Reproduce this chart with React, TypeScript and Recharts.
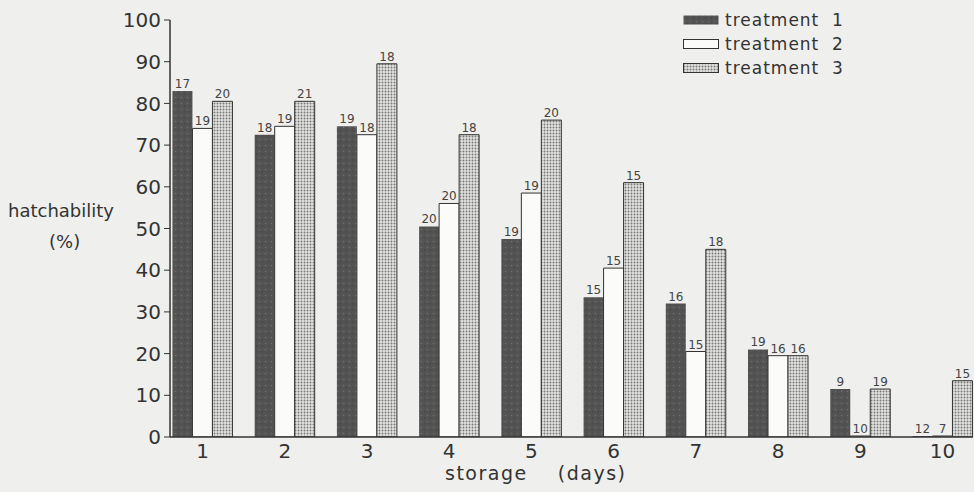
import React from 'react';
import { BarChart, Bar, XAxis, YAxis, LabelList } from 'recharts';

// storage days
const days = [1, 2, 3, 4, 5, 6, 7, 8, 9, 10];
// hatchability (%) per treatment
const treatment1 = [83, 72.5, 74.5, 50.5, 47.5, 33.5, 32, 21, 11.5, 0];
const treatment2 = [74, 74.5, 72.5, 56, 58.5, 40.5, 20.5, 19.5, 0, 0];
const treatment3 = [80.5, 80.5, 89.5, 72.5, 76, 61, 45, 19.5, 11.5, 13.5];
// numbers printed above the bars
const count1 = [17, 18, 19, 20, 19, 15, 16, 19, 9, 12];
const count2 = [19, 19, 18, 20, 19, 15, 15, 16, 10, 7];
const count3 = [20, 21, 18, 18, 20, 15, 18, 16, 19, 15];
const yTicks = [0, 10, 20, 30, 40, 50, 60, 70, 80, 90, 100];
const legendNames = ['treatment  1', 'treatment  2', 'treatment  3'];

const data = days.map((d, i) => ({
    day: d,
    t1: treatment1[i],
    t2: treatment2[i],
    t3: treatment3[i],
    n1: count1[i],
    n2: count2[i],
    n3: count3[i],
}));

const ink = '#333';
const font = '"DejaVu Sans", sans-serif';
const fills = ['url(#darkFill)', '#fbfbfa', 'url(#dotFill)'];

const Patterns = () => (
    <svg width={0} height={0} style={{ position: 'absolute' }}>
        <defs>
            <pattern id='darkFill' width={6} height={6} patternUnits='userSpaceOnUse'>
                <rect width={6} height={6} fill='#535353' />
                <circle cx={1.5} cy={1.5} r={0.8} fill='#6e6e6e' />
                <circle cx={4.5} cy={4} r={0.7} fill='#404040' />
            </pattern>
            <pattern id='dotFill' width={3} height={3} patternUnits='userSpaceOnUse'>
                <rect width={3} height={3} fill='#e2e2e0' />
                <circle cx={1.5} cy={1.5} r={0.95} fill='#777' />
            </pattern>
        </defs>
    </svg>
);

const labelStyle = { fontSize: 12, fill: '#444', fontFamily: font };

const App = () => {
    return (
        <div style={{ position: 'absolute', left: 0, top: 0, width: 974, height: 492, background: '#efefed', fontFamily: font, color: ink }}>
            <Patterns />
            <BarChart width={974} height={492} data={data} margin={{ top: 20, right: 1, bottom: 0, left: 0 }} barGap={0}>
                <XAxis
                    type='number'
                    dataKey='day'
                    domain={[0.604, 10.37]}
                    ticks={days}
                    allowDataOverflow
                    height={55}
                    axisLine={{ stroke: ink, strokeWidth: 1.5 }}
                    tickLine={false}
                    tick={{ fontSize: 20, fill: ink, fontFamily: font }}
                    tickMargin={1}
                />
                <YAxis
                    width={170}
                    domain={[0, 100]}
                    ticks={yTicks}
                    allowDataOverflow
                    axisLine={{ stroke: ink, strokeWidth: 1.5 }}
                    tickLine={{ stroke: ink }}
                    tickSize={6}
                    tickMargin={3}
                    tick={{ fontSize: 20, fill: ink, fontFamily: font }}
                />
                <Bar dataKey='t1' fill={fills[0]} barSize={20} minPointSize={1} isAnimationActive={false}>
                    <LabelList dataKey='n1' position='top' offset={3} style={labelStyle} />
                </Bar>
                <Bar dataKey='t2' fill={fills[1]} stroke={ink} strokeWidth={1} barSize={20} minPointSize={1} isAnimationActive={false}>
                    <LabelList dataKey='n2' position='top' offset={3} style={labelStyle} />
                </Bar>
                <Bar dataKey='t3' fill={fills[2]} stroke={ink} strokeWidth={1} barSize={20} isAnimationActive={false}>
                    <LabelList dataKey='n3' position='top' offset={3} style={labelStyle} />
                </Bar>
            </BarChart>

            <div style={{ position: 'absolute', left: 8, top: 200, fontSize: 18 }}>hatchability</div>
            <div style={{ position: 'absolute', left: 49, top: 231, fontSize: 18 }}>(%)</div>
            <div style={{ position: 'absolute', left: 445, top: 462, fontSize: 19, letterSpacing: 1.5, whiteSpace: 'pre' }}>{'storage    (days)'}</div>

            <div style={{ position: 'absolute', left: 683, top: 8 }}>
                {legendNames.map((name, i) => (
                    <div key={name} style={{ display: 'flex', alignItems: 'center', height: 24 }}>
                        <svg width={38} height={12}>
                            <rect x={0.5} y={1.5} width={35} height={9} fill={fills[i]} stroke={i === 0 ? 'none' : ink} strokeWidth={1} />
                        </svg>
                        <span style={{ fontSize: 17, marginLeft: 4, letterSpacing: 1, whiteSpace: 'pre' }}>{name}</span>
                    </div>
                ))}
            </div>
        </div>
    );
};

export default App;
